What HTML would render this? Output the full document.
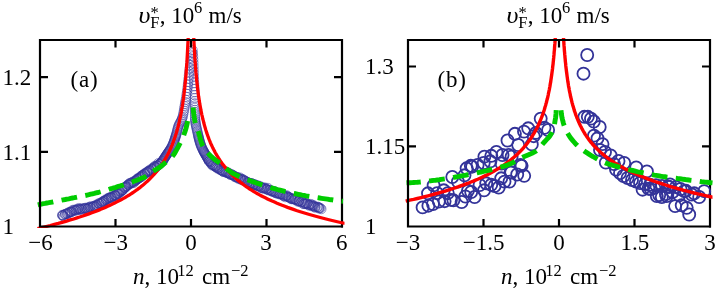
<!DOCTYPE html>
<html><head><meta charset="utf-8"><title>fig</title>
<style>
html,body{margin:0;padding:0;background:#fff;}
svg{display:block;will-change:transform;font-family:"Liberation Serif",serif;font-size:23px;fill:#000;}
</style></head><body>
<svg width="721" height="289" viewBox="0 0 721 289">
<rect width="721" height="289" fill="#fff"/>
<path d="M342 39V227.5" stroke="#000" stroke-width="2.2" fill="none"/><path d="M710 39V227.5" stroke="#000" stroke-width="2.2" fill="none"/>
<defs><clipPath id="ca"><rect x="37" y="38" width="307.5" height="190"/></clipPath><clipPath id="cb"><rect x="405" y="38" width="307.5" height="190"/></clipPath></defs><g clip-path="url(#ca)"><g fill="none" stroke="#333399" stroke-width="0.52"><circle cx="62.21" cy="214.92" r="4.65"/><circle cx="62.39" cy="215.61" r="4.65"/><circle cx="62.76" cy="215.49" r="4.65"/><circle cx="62.96" cy="215.18" r="4.65"/><circle cx="63.83" cy="216.65" r="4.65"/><circle cx="64.69" cy="214.52" r="4.65"/><circle cx="65.15" cy="214.06" r="4.65"/><circle cx="65.55" cy="213.9" r="4.65"/><circle cx="66.52" cy="213.68" r="4.65"/><circle cx="67.22" cy="213.39" r="4.65"/><circle cx="67.57" cy="213.95" r="4.65"/><circle cx="68.29" cy="212.62" r="4.65"/><circle cx="68.69" cy="212.84" r="4.65"/><circle cx="69.82" cy="212.15" r="4.65"/><circle cx="69.88" cy="212.53" r="4.65"/><circle cx="70.33" cy="211.63" r="4.65"/><circle cx="71.38" cy="211.82" r="4.65"/><circle cx="71.8" cy="211.62" r="4.65"/><circle cx="71.68" cy="211.55" r="4.65"/><circle cx="72.77" cy="209.97" r="4.65"/><circle cx="73.7" cy="210.93" r="4.65"/><circle cx="74.14" cy="209.82" r="4.65"/><circle cx="74.88" cy="210.13" r="4.65"/><circle cx="75.86" cy="210.34" r="4.65"/><circle cx="76.2" cy="210.36" r="4.65"/><circle cx="76.74" cy="209.19" r="4.65"/><circle cx="77.59" cy="209.82" r="4.65"/><circle cx="78.04" cy="209.03" r="4.65"/><circle cx="78.8" cy="208.09" r="4.65"/><circle cx="79.57" cy="209.51" r="4.65"/><circle cx="79.65" cy="209.23" r="4.65"/><circle cx="80.47" cy="209.52" r="4.65"/><circle cx="80.87" cy="208.63" r="4.65"/><circle cx="82.21" cy="209.61" r="4.65"/><circle cx="82.15" cy="208.73" r="4.65"/><circle cx="83.43" cy="208.62" r="4.65"/><circle cx="84.4" cy="208.27" r="4.65"/><circle cx="84.75" cy="208.27" r="4.65"/><circle cx="85.67" cy="208.7" r="4.65"/><circle cx="85.88" cy="207.76" r="4.65"/><circle cx="87.04" cy="208.88" r="4.65"/><circle cx="87.45" cy="208.93" r="4.65"/><circle cx="87.99" cy="207.88" r="4.65"/><circle cx="88.33" cy="207.61" r="4.65"/><circle cx="89.51" cy="207.08" r="4.65"/><circle cx="89.64" cy="207.44" r="4.65"/><circle cx="90.47" cy="207.67" r="4.65"/><circle cx="90.72" cy="206.3" r="4.65"/><circle cx="91.66" cy="207.55" r="4.65"/><circle cx="92.47" cy="206.83" r="4.65"/><circle cx="92.82" cy="206.64" r="4.65"/><circle cx="93.45" cy="206.67" r="4.65"/><circle cx="93.93" cy="206.08" r="4.65"/><circle cx="94.71" cy="206.04" r="4.65"/><circle cx="95.41" cy="206.79" r="4.65"/><circle cx="96.33" cy="206.01" r="4.65"/><circle cx="96.05" cy="204.82" r="4.65"/><circle cx="97.01" cy="204.99" r="4.65"/><circle cx="97.2" cy="205.04" r="4.65"/><circle cx="98.63" cy="203.52" r="4.65"/><circle cx="98.71" cy="203.49" r="4.65"/><circle cx="99.56" cy="203.92" r="4.65"/><circle cx="100.66" cy="203.2" r="4.65"/><circle cx="100.92" cy="203.08" r="4.65"/><circle cx="101.76" cy="203.07" r="4.65"/><circle cx="102.24" cy="201.85" r="4.65"/><circle cx="102.43" cy="201.66" r="4.65"/><circle cx="103.41" cy="202.05" r="4.65"/><circle cx="103.52" cy="201.14" r="4.65"/><circle cx="104.27" cy="200.66" r="4.65"/><circle cx="104.48" cy="200.9" r="4.65"/><circle cx="105.89" cy="200.19" r="4.65"/><circle cx="105.7" cy="199.4" r="4.65"/><circle cx="106.08" cy="199.92" r="4.65"/><circle cx="107.2" cy="199.34" r="4.65"/><circle cx="107.65" cy="199.07" r="4.65"/><circle cx="108.18" cy="197.93" r="4.65"/><circle cx="108.62" cy="198.44" r="4.65"/><circle cx="109.12" cy="197.84" r="4.65"/><circle cx="109.69" cy="197.6" r="4.65"/><circle cx="110.69" cy="197.26" r="4.65"/><circle cx="111.03" cy="197.56" r="4.65"/><circle cx="111.81" cy="197.69" r="4.65"/><circle cx="111.71" cy="196.97" r="4.65"/><circle cx="112.69" cy="196.3" r="4.65"/><circle cx="113.61" cy="196.46" r="4.65"/><circle cx="114.24" cy="195.68" r="4.65"/><circle cx="114.96" cy="195.15" r="4.65"/><circle cx="115.1" cy="195.37" r="4.65"/><circle cx="115.57" cy="195.72" r="4.65"/><circle cx="116.54" cy="195.4" r="4.65"/><circle cx="116.84" cy="193.79" r="4.65"/><circle cx="117.46" cy="194.01" r="4.65"/><circle cx="117.83" cy="193.48" r="4.65"/><circle cx="118.53" cy="193.75" r="4.65"/><circle cx="118.92" cy="193.1" r="4.65"/><circle cx="119.47" cy="191.72" r="4.65"/><circle cx="119.99" cy="191.22" r="4.65"/><circle cx="120.73" cy="191.93" r="4.65"/><circle cx="121.25" cy="191.32" r="4.65"/><circle cx="122.13" cy="190.72" r="4.65"/><circle cx="122.27" cy="190.02" r="4.65"/><circle cx="122.32" cy="190.11" r="4.65"/><circle cx="122.78" cy="189.62" r="4.65"/><circle cx="123.71" cy="189.42" r="4.65"/><circle cx="124.18" cy="188" r="4.65"/><circle cx="124.78" cy="187.69" r="4.65"/><circle cx="125.14" cy="187.55" r="4.65"/><circle cx="125.65" cy="187" r="4.65"/><circle cx="125.97" cy="186.57" r="4.65"/><circle cx="126.15" cy="186.16" r="4.65"/><circle cx="126.89" cy="186.38" r="4.65"/><circle cx="128.02" cy="184.43" r="4.65"/><circle cx="128.27" cy="184.94" r="4.65"/><circle cx="128.5" cy="184.88" r="4.65"/><circle cx="129.19" cy="183.36" r="4.65"/><circle cx="129.8" cy="183.81" r="4.65"/><circle cx="130.46" cy="182.94" r="4.65"/><circle cx="131.17" cy="183.62" r="4.65"/><circle cx="131.33" cy="182.64" r="4.65"/><circle cx="132.19" cy="182.4" r="4.65"/><circle cx="133.23" cy="182.48" r="4.65"/><circle cx="133.11" cy="181.64" r="4.65"/><circle cx="133.9" cy="182.83" r="4.65"/><circle cx="134.42" cy="181.37" r="4.65"/><circle cx="135.12" cy="180.9" r="4.65"/><circle cx="136.09" cy="180.25" r="4.65"/><circle cx="136.23" cy="180.19" r="4.65"/><circle cx="136.71" cy="179.11" r="4.65"/><circle cx="137.51" cy="179.22" r="4.65"/><circle cx="137.58" cy="178.39" r="4.65"/><circle cx="137.9" cy="178.72" r="4.65"/><circle cx="138.83" cy="178.39" r="4.65"/><circle cx="139.4" cy="177.95" r="4.65"/><circle cx="139.62" cy="177.6" r="4.65"/><circle cx="140.28" cy="176.72" r="4.65"/><circle cx="140.84" cy="177.02" r="4.65"/><circle cx="141.25" cy="175.81" r="4.65"/><circle cx="141.91" cy="176.56" r="4.65"/><circle cx="142.23" cy="175.2" r="4.65"/><circle cx="142.8" cy="175.5" r="4.65"/><circle cx="142.94" cy="174.73" r="4.65"/><circle cx="144.26" cy="173.79" r="4.65"/><circle cx="144.9" cy="174.13" r="4.65"/><circle cx="144.96" cy="173.63" r="4.65"/><circle cx="145.29" cy="172.92" r="4.65"/><circle cx="146.7" cy="172.42" r="4.65"/><circle cx="147.27" cy="172.49" r="4.65"/><circle cx="147.63" cy="172.22" r="4.65"/><circle cx="147.39" cy="171.58" r="4.65"/><circle cx="148.56" cy="170.95" r="4.65"/><circle cx="148.74" cy="171.35" r="4.65"/><circle cx="149.46" cy="169.97" r="4.65"/><circle cx="150.01" cy="170.88" r="4.65"/><circle cx="150.6" cy="170.54" r="4.65"/><circle cx="151.63" cy="169.7" r="4.65"/><circle cx="151.5" cy="168.64" r="4.65"/><circle cx="152.3" cy="169.33" r="4.65"/><circle cx="152.9" cy="168.76" r="4.65"/><circle cx="153.24" cy="168.24" r="4.65"/><circle cx="153.76" cy="167.52" r="4.65"/><circle cx="154.08" cy="166.5" r="4.65"/><circle cx="154.82" cy="166.34" r="4.65"/><circle cx="155.24" cy="166.85" r="4.65"/><circle cx="156" cy="167.61" r="4.65"/><circle cx="156.82" cy="165.49" r="4.65"/><circle cx="157.35" cy="165.65" r="4.65"/><circle cx="157.55" cy="165.69" r="4.65"/><circle cx="158.1" cy="163.27" r="4.65"/><circle cx="159.05" cy="164.13" r="4.65"/><circle cx="159.76" cy="163.74" r="4.65"/><circle cx="159.62" cy="164.44" r="4.65"/><circle cx="160.13" cy="163.32" r="4.65"/><circle cx="161.24" cy="162.82" r="4.65"/><circle cx="161.31" cy="162.33" r="4.65"/><circle cx="161.97" cy="161.38" r="4.65"/><circle cx="162.33" cy="161.56" r="4.65"/><circle cx="163.17" cy="160.59" r="4.65"/><circle cx="162.76" cy="160.59" r="4.65"/><circle cx="163.37" cy="159.69" r="4.65"/><circle cx="163.75" cy="159.15" r="4.65"/><circle cx="164.12" cy="158.6" r="4.65"/><circle cx="164.49" cy="158.05" r="4.65"/><circle cx="164.85" cy="157.5" r="4.65"/><circle cx="165.21" cy="156.95" r="4.65"/><circle cx="165.57" cy="156.4" r="4.65"/><circle cx="165.93" cy="155.85" r="4.65"/><circle cx="166.3" cy="155.3" r="4.65"/><circle cx="166.67" cy="154.75" r="4.65"/><circle cx="167.04" cy="154.2" r="4.65"/><circle cx="167.41" cy="153.66" r="4.65"/><circle cx="167.78" cy="153.11" r="4.65"/><circle cx="168.15" cy="152.57" r="4.65"/><circle cx="168.52" cy="152.02" r="4.65"/><circle cx="168.89" cy="151.47" r="4.65"/><circle cx="169.25" cy="150.92" r="4.65"/><circle cx="169.61" cy="150.37" r="4.65"/><circle cx="169.97" cy="149.81" r="4.65"/><circle cx="170.49" cy="148.96" r="4.65"/><circle cx="171" cy="148.1" r="4.65"/><circle cx="171.49" cy="147.23" r="4.65"/><circle cx="171.96" cy="146.34" r="4.65"/><circle cx="172.4" cy="145.44" r="4.65"/><circle cx="172.81" cy="144.53" r="4.65"/><circle cx="173.19" cy="143.61" r="4.65"/><circle cx="173.56" cy="142.68" r="4.65"/><circle cx="173.91" cy="141.74" r="4.65"/><circle cx="174.25" cy="140.8" r="4.65"/><circle cx="174.58" cy="139.86" r="4.65"/><circle cx="174.89" cy="138.91" r="4.65"/><circle cx="175.19" cy="137.95" r="4.65"/><circle cx="175.49" cy="137" r="4.65"/><circle cx="175.78" cy="136.04" r="4.65"/><circle cx="176.07" cy="135.09" r="4.65"/><circle cx="176.35" cy="134.13" r="4.65"/><circle cx="176.71" cy="132.77" r="4.65"/><circle cx="177.04" cy="131.41" r="4.65"/><circle cx="177.36" cy="130.05" r="4.65"/><circle cx="177.7" cy="128.69" r="4.65"/><circle cx="178.07" cy="127.34" r="4.65"/><circle cx="178.5" cy="126.01" r="4.65"/><circle cx="179.02" cy="124.71" r="4.65"/><circle cx="179.65" cy="123.46" r="4.65"/><circle cx="180.33" cy="122.23" r="4.65"/><circle cx="181" cy="121.01" r="4.65"/><circle cx="181.63" cy="119.76" r="4.65"/><circle cx="182.15" cy="118.46" r="4.65"/><circle cx="182.55" cy="117.12" r="4.65"/><circle cx="183.07" cy="114.98" r="4.65"/><circle cx="183.51" cy="112.82" r="4.65"/><circle cx="183.91" cy="110.66" r="4.65"/><circle cx="184.27" cy="108.49" r="4.65"/><circle cx="184.64" cy="106.32" r="4.65"/><circle cx="185.02" cy="104.15" r="4.65"/><circle cx="185.39" cy="101.99" r="4.65"/><circle cx="185.75" cy="99.82" r="4.65"/><circle cx="186.23" cy="96.85" r="4.65"/><circle cx="186.68" cy="93.89" r="4.65"/><circle cx="187.11" cy="90.92" r="4.65"/><circle cx="187.51" cy="87.94" r="4.65"/><circle cx="187.87" cy="84.97" r="4.65"/><circle cx="188.2" cy="81.98" r="4.65"/><circle cx="188.55" cy="78.6" r="4.65"/><circle cx="188.9" cy="75.22" r="4.65"/><circle cx="189.28" cy="71.84" r="4.65"/><circle cx="189.7" cy="68.47" r="4.65"/><circle cx="190.17" cy="65.1" r="4.65"/><circle cx="190.66" cy="61.74" r="4.65"/><circle cx="191.12" cy="58.57" r="4.65"/><circle cx="191.56" cy="55.4" r="4.65"/><circle cx="192" cy="52.23" r="4.65"/><circle cx="192.6" cy="50" r="4.65"/><circle cx="192.86" cy="53.19" r="4.65"/><circle cx="193.09" cy="56.38" r="4.65"/><circle cx="193.28" cy="59.58" r="4.65"/><circle cx="193.42" cy="62.77" r="4.65"/><circle cx="193.53" cy="66.17" r="4.65"/><circle cx="193.63" cy="69.57" r="4.65"/><circle cx="193.73" cy="72.97" r="4.65"/><circle cx="193.85" cy="76.37" r="4.65"/><circle cx="193.99" cy="79.76" r="4.65"/><circle cx="194.14" cy="83.16" r="4.65"/><circle cx="194.28" cy="86.16" r="4.65"/><circle cx="194.41" cy="89.15" r="4.65"/><circle cx="194.54" cy="92.15" r="4.65"/><circle cx="194.66" cy="95.15" r="4.65"/><circle cx="194.75" cy="98.15" r="4.65"/><circle cx="194.82" cy="101.15" r="4.65"/><circle cx="194.86" cy="103.35" r="4.65"/><circle cx="194.89" cy="105.55" r="4.65"/><circle cx="194.92" cy="107.75" r="4.65"/><circle cx="194.94" cy="109.94" r="4.65"/><circle cx="194.97" cy="112.14" r="4.65"/><circle cx="195.01" cy="114.34" r="4.65"/><circle cx="195.06" cy="116.54" r="4.65"/><circle cx="195.13" cy="118.74" r="4.65"/><circle cx="195.23" cy="120.14" r="4.65"/><circle cx="195.38" cy="121.53" r="4.65"/><circle cx="195.56" cy="122.92" r="4.65"/><circle cx="195.79" cy="124.3" r="4.65"/><circle cx="196.04" cy="125.68" r="4.65"/><circle cx="196.31" cy="127.05" r="4.65"/><circle cx="196.61" cy="128.42" r="4.65"/><circle cx="196.91" cy="129.79" r="4.65"/><circle cx="197.23" cy="131.15" r="4.65"/><circle cx="197.54" cy="132.51" r="4.65"/><circle cx="197.85" cy="133.88" r="4.65"/><circle cx="198.15" cy="135.25" r="4.65"/><circle cx="198.37" cy="136.22" r="4.65"/><circle cx="198.59" cy="137.2" r="4.65"/><circle cx="198.83" cy="138.17" r="4.65"/><circle cx="199.07" cy="139.14" r="4.65"/><circle cx="199.32" cy="140.11" r="4.65"/><circle cx="199.58" cy="141.07" r="4.65"/><circle cx="199.85" cy="142.04" r="4.65"/><circle cx="200.14" cy="142.99" r="4.65"/><circle cx="200.44" cy="143.95" r="4.65"/><circle cx="200.76" cy="144.89" r="4.65"/><circle cx="201.11" cy="145.83" r="4.65"/><circle cx="201.47" cy="146.76" r="4.65"/><circle cx="201.87" cy="147.68" r="4.65"/><circle cx="202.28" cy="148.59" r="4.65"/><circle cx="202.72" cy="149.49" r="4.65"/><circle cx="203.17" cy="150.39" r="4.65"/><circle cx="203.47" cy="150.97" r="4.65"/><circle cx="203.78" cy="151.55" r="4.65"/><circle cx="204.09" cy="152.14" r="4.65"/><circle cx="204.41" cy="152.71" r="4.65"/><circle cx="204.73" cy="153.29" r="4.65"/><circle cx="205.06" cy="153.87" r="4.65"/><circle cx="205.38" cy="154.44" r="4.65"/><circle cx="205.71" cy="155.01" r="4.65"/><circle cx="206.03" cy="155.59" r="4.65"/><circle cx="206.36" cy="156.16" r="4.65"/><circle cx="206.68" cy="156.74" r="4.65"/><circle cx="207.01" cy="157.31" r="4.65"/><circle cx="207.34" cy="157.88" r="4.65"/><circle cx="207.67" cy="158.45" r="4.65"/><circle cx="208.01" cy="159.02" r="4.65"/><circle cx="208.36" cy="159.58" r="4.65"/><circle cx="208.61" cy="160.28" r="4.65"/><circle cx="209.11" cy="161.27" r="4.65"/><circle cx="209.28" cy="161.19" r="4.65"/><circle cx="209.2" cy="161.32" r="4.65"/><circle cx="210.62" cy="161.95" r="4.65"/><circle cx="210.49" cy="162.19" r="4.65"/><circle cx="211.24" cy="163.38" r="4.65"/><circle cx="211.26" cy="164.1" r="4.65"/><circle cx="212.11" cy="164.59" r="4.65"/><circle cx="212.38" cy="165.51" r="4.65"/><circle cx="213.17" cy="164.99" r="4.65"/><circle cx="213.47" cy="165.31" r="4.65"/><circle cx="214.36" cy="165.67" r="4.65"/><circle cx="214.97" cy="166.45" r="4.65"/><circle cx="215.6" cy="166.91" r="4.65"/><circle cx="215.82" cy="165.88" r="4.65"/><circle cx="216.49" cy="167.55" r="4.65"/><circle cx="217.03" cy="167.76" r="4.65"/><circle cx="217.45" cy="167.6" r="4.65"/><circle cx="217.91" cy="168.79" r="4.65"/><circle cx="218.77" cy="168.17" r="4.65"/><circle cx="218.98" cy="168.66" r="4.65"/><circle cx="220.25" cy="169.28" r="4.65"/><circle cx="220.29" cy="170.08" r="4.65"/><circle cx="221.41" cy="170.17" r="4.65"/><circle cx="221.84" cy="170.56" r="4.65"/><circle cx="222.36" cy="170.67" r="4.65"/><circle cx="222.62" cy="171.33" r="4.65"/><circle cx="223.47" cy="171.88" r="4.65"/><circle cx="223.49" cy="171.51" r="4.65"/><circle cx="224.84" cy="171.27" r="4.65"/><circle cx="225.31" cy="172.1" r="4.65"/><circle cx="225.93" cy="171.74" r="4.65"/><circle cx="226.35" cy="172.79" r="4.65"/><circle cx="227.31" cy="172.61" r="4.65"/><circle cx="227.61" cy="172.94" r="4.65"/><circle cx="228.45" cy="172.59" r="4.65"/><circle cx="228.45" cy="173.45" r="4.65"/><circle cx="229.11" cy="173.37" r="4.65"/><circle cx="230.01" cy="174.19" r="4.65"/><circle cx="230.31" cy="174.62" r="4.65"/><circle cx="230.74" cy="174.77" r="4.65"/><circle cx="231.38" cy="174.15" r="4.65"/><circle cx="232.53" cy="174.86" r="4.65"/><circle cx="232.77" cy="175.13" r="4.65"/><circle cx="233.68" cy="175.61" r="4.65"/><circle cx="234.15" cy="176.45" r="4.65"/><circle cx="234.58" cy="175.97" r="4.65"/><circle cx="235.22" cy="177.07" r="4.65"/><circle cx="236.19" cy="177.42" r="4.65"/><circle cx="236.53" cy="176.98" r="4.65"/><circle cx="237.35" cy="177.14" r="4.65"/><circle cx="237.94" cy="177.99" r="4.65"/><circle cx="238.16" cy="177.86" r="4.65"/><circle cx="238.9" cy="179.05" r="4.65"/><circle cx="240.18" cy="178.41" r="4.65"/><circle cx="240.13" cy="177.6" r="4.65"/><circle cx="240.78" cy="179.01" r="4.65"/><circle cx="241.06" cy="179.67" r="4.65"/><circle cx="241.54" cy="179.44" r="4.65"/><circle cx="242.57" cy="179.19" r="4.65"/><circle cx="243.36" cy="180.61" r="4.65"/><circle cx="243.4" cy="179.63" r="4.65"/><circle cx="244.51" cy="180.58" r="4.65"/><circle cx="244.67" cy="180.7" r="4.65"/><circle cx="245.55" cy="181.03" r="4.65"/><circle cx="246.4" cy="181.54" r="4.65"/><circle cx="247.24" cy="182.28" r="4.65"/><circle cx="247.58" cy="182.38" r="4.65"/><circle cx="248.36" cy="182.44" r="4.65"/><circle cx="248.33" cy="182.76" r="4.65"/><circle cx="249.27" cy="183.38" r="4.65"/><circle cx="249.89" cy="183.07" r="4.65"/><circle cx="250.57" cy="183.89" r="4.65"/><circle cx="251.15" cy="183.15" r="4.65"/><circle cx="251.8" cy="183.3" r="4.65"/><circle cx="252.38" cy="183.75" r="4.65"/><circle cx="253.02" cy="184.94" r="4.65"/><circle cx="253.47" cy="184.23" r="4.65"/><circle cx="254.14" cy="184.78" r="4.65"/><circle cx="254.51" cy="184.33" r="4.65"/><circle cx="255.42" cy="185.18" r="4.65"/><circle cx="256.04" cy="184.88" r="4.65"/><circle cx="256.45" cy="185.61" r="4.65"/><circle cx="257.65" cy="185.75" r="4.65"/><circle cx="257.95" cy="186.03" r="4.65"/><circle cx="258.29" cy="185.88" r="4.65"/><circle cx="259.08" cy="186.41" r="4.65"/><circle cx="259.76" cy="185.88" r="4.65"/><circle cx="260.67" cy="187.56" r="4.65"/><circle cx="260.94" cy="187.13" r="4.65"/><circle cx="261.7" cy="187.55" r="4.65"/><circle cx="261.88" cy="188.19" r="4.65"/><circle cx="262.76" cy="188.24" r="4.65"/><circle cx="263.51" cy="187.64" r="4.65"/><circle cx="264.08" cy="188.5" r="4.65"/><circle cx="264.52" cy="188.09" r="4.65"/><circle cx="265.23" cy="187.65" r="4.65"/><circle cx="266.3" cy="189.02" r="4.65"/><circle cx="266.59" cy="189.54" r="4.65"/><circle cx="266.98" cy="189.14" r="4.65"/><circle cx="268.27" cy="189.9" r="4.65"/><circle cx="267.9" cy="187.97" r="4.65"/><circle cx="268.82" cy="190.39" r="4.65"/><circle cx="269.58" cy="189.98" r="4.65"/><circle cx="270.47" cy="189.88" r="4.65"/><circle cx="270.99" cy="190.95" r="4.65"/><circle cx="271.67" cy="190.98" r="4.65"/><circle cx="272.02" cy="191.27" r="4.65"/><circle cx="272.68" cy="191.9" r="4.65"/><circle cx="274.05" cy="191.11" r="4.65"/><circle cx="273.48" cy="191.5" r="4.65"/><circle cx="274.73" cy="192.47" r="4.65"/><circle cx="275.52" cy="191.79" r="4.65"/><circle cx="275.67" cy="193.05" r="4.65"/><circle cx="276.22" cy="193.19" r="4.65"/><circle cx="277.05" cy="193.27" r="4.65"/><circle cx="277.9" cy="193.51" r="4.65"/><circle cx="278.54" cy="192.86" r="4.65"/><circle cx="279.03" cy="193.6" r="4.65"/><circle cx="279.65" cy="194.44" r="4.65"/><circle cx="280.12" cy="193.7" r="4.65"/><circle cx="280.62" cy="194.14" r="4.65"/><circle cx="281.61" cy="194.12" r="4.65"/><circle cx="282.33" cy="194.91" r="4.65"/><circle cx="282.6" cy="194.34" r="4.65"/><circle cx="283.33" cy="195.58" r="4.65"/><circle cx="283.45" cy="196.07" r="4.65"/><circle cx="284.92" cy="195.88" r="4.65"/><circle cx="285.24" cy="197.15" r="4.65"/><circle cx="286.05" cy="195.73" r="4.65"/><circle cx="286.35" cy="196.33" r="4.65"/><circle cx="286.93" cy="195.46" r="4.65"/><circle cx="287.78" cy="196.56" r="4.65"/><circle cx="288.25" cy="197.05" r="4.65"/><circle cx="289.04" cy="197.2" r="4.65"/><circle cx="289.24" cy="197.85" r="4.65"/><circle cx="290.41" cy="197.65" r="4.65"/><circle cx="291.02" cy="198.17" r="4.65"/><circle cx="291.16" cy="199.04" r="4.65"/><circle cx="291.71" cy="199.01" r="4.65"/><circle cx="292.41" cy="198.96" r="4.65"/><circle cx="292.84" cy="198.55" r="4.65"/><circle cx="294.04" cy="199.29" r="4.65"/><circle cx="294.4" cy="199.2" r="4.65"/><circle cx="295.12" cy="198.95" r="4.65"/><circle cx="295.35" cy="199.8" r="4.65"/><circle cx="296.04" cy="199.75" r="4.65"/><circle cx="296.85" cy="200.26" r="4.65"/><circle cx="297.44" cy="201.38" r="4.65"/><circle cx="298.36" cy="201.39" r="4.65"/><circle cx="298.73" cy="200.75" r="4.65"/><circle cx="298.99" cy="201.05" r="4.65"/><circle cx="299.46" cy="201.15" r="4.65"/><circle cx="300.79" cy="202.47" r="4.65"/><circle cx="301.46" cy="201.45" r="4.65"/><circle cx="301.97" cy="201.71" r="4.65"/><circle cx="302.67" cy="202.26" r="4.65"/><circle cx="303.3" cy="203.82" r="4.65"/><circle cx="303.94" cy="203.92" r="4.65"/><circle cx="304.38" cy="202.81" r="4.65"/><circle cx="305.29" cy="204.05" r="4.65"/><circle cx="305.44" cy="203.44" r="4.65"/><circle cx="305.85" cy="203.52" r="4.65"/><circle cx="307.05" cy="203.79" r="4.65"/><circle cx="307.31" cy="203.35" r="4.65"/><circle cx="308.17" cy="204.66" r="4.65"/><circle cx="308.85" cy="204.61" r="4.65"/><circle cx="309.01" cy="205.57" r="4.65"/><circle cx="309.94" cy="204.83" r="4.65"/><circle cx="310.76" cy="204.03" r="4.65"/><circle cx="311.19" cy="205.26" r="4.65"/><circle cx="311.92" cy="206.21" r="4.65"/><circle cx="312.57" cy="204.83" r="4.65"/><circle cx="312.99" cy="206.06" r="4.65"/><circle cx="313.74" cy="205.53" r="4.65"/><circle cx="313.92" cy="206.65" r="4.65"/><circle cx="315.04" cy="206.58" r="4.65"/><circle cx="315.15" cy="207.68" r="4.65"/><circle cx="315.49" cy="206.82" r="4.65"/><circle cx="317.36" cy="207.13" r="4.65"/><circle cx="317.52" cy="206.83" r="4.65"/><circle cx="318.43" cy="206.98" r="4.65"/><circle cx="318.78" cy="207.89" r="4.65"/><circle cx="319.08" cy="208.48" r="4.65"/><circle cx="319.62" cy="207.89" r="4.65"/><circle cx="320.59" cy="208.23" r="4.65"/><circle cx="321.35" cy="209.11" r="4.65"/></g>
<path d="M189 12.9 188.9 15 188.9 17.2 188.8 19.3 188.8 21.4 188.7 23.5 188.6 25.6 188.5 27.6 188.5 29.7 188.4 31.7 188.3 33.8 188.2 35.8 188.2 37.8 188.1 39.8 188 41.8 187.9 43.7 187.8 45.7 187.7 47.6 187.6 49.5 187.5 51.5 187.4 53.4 187.3 55.3 187.2 57.1 187.1 59 187 60.9 186.9 62.7 186.7 64.6 186.6 66.4 186.5 68.2 186.3 70 186.2 71.8 186.1 73.6 185.9 75.3 185.8 77.1 185.6 78.8 185.5 80.6 185.3 82.3 185.1 84 184.9 85.7 184.8 87.4 184.6 89.1 184.4 90.8 184.2 92.4 184 94.1 183.8 95.7 183.6 97.4 183.4 99 183.1 100.6 182.9 102.2 182.7 103.8 182.4 105.4 182.2 107 181.9 108.5 181.6 110.1 181.4 111.7 181.1 113.2 180.8 114.7 180.5 116.2 180.2 117.8 179.8 119.3 179.5 120.8 179.2 122.2 178.8 123.7 178.5 125.2 178.1 126.6 177.7 128.1 177.3 129.5 176.9 131 176.5 132.4 176.1 133.8 175.6 135.2 175.2 136.6 174.7 138 174.2 139.4 173.7 140.8 173.2 142.2 172.7 143.5 172.2 144.9 171.6 146.3 171 147.6 170.4 148.9 169.8 150.3 169.2 151.6 168.6 152.9 167.9 154.2 167.2 155.5 166.5 156.8 165.8 158.1 165 159.4 164.3 160.7 163.5 161.9 162.7 163.2 161.8 164.5 161 165.7 160.1 167 159.2 168.2 158.2 169.4 157.3 170.7 156.3 171.9 155.2 173.1 154.2 174.3 153.1 175.5 152 176.7 150.8 177.9 149.6 179.1 148.4 180.3 147.1 181.5 145.8 182.6 144.5 183.8 143.1 185 141.7 186.1 140.3 187.3 138.8 188.4 137.2 189.6 135.6 190.7 134 191.9 132.3 193 130.6 194.1 128.8 195.3 126.9 196.4 125.1 197.5 123.1 198.6 121.1 199.7 119 200.8 116.9 201.9 114.7 203 112.5 204.1 110.1 205.2 107.7 206.3 105.3 207.4 102.7 208.5 100.1 209.6 97.5 210.6 94.7 211.7 91.8 212.8 88.9 213.9 85.9 214.9 82.8 216 79.6 217 76.3 218.1 72.9 219.2 69.4 220.2 65.8 221.3 62.1 222.3 58.3 223.4 54.4 224.4 50.3 225.5 46.2 226.5 41.9 227.5 37.5 228.6" fill="none" stroke="#ff0000" stroke-width="3.3" stroke-linejoin="round"/>
<path d="M193 16.1 193.1 18.1 193.1 20 193.2 21.9 193.2 23.9 193.3 25.8 193.4 27.7 193.5 29.5 193.5 31.4 193.6 33.3 193.7 35.1 193.8 37 193.8 38.8 193.9 40.7 194 42.5 194.1 44.3 194.2 46.1 194.3 47.9 194.4 49.7 194.5 51.5 194.6 53.2 194.7 55 194.8 56.8 194.9 58.5 195 60.3 195.1 62 195.3 63.7 195.4 65.4 195.5 67.1 195.7 68.8 195.8 70.5 195.9 72.2 196.1 73.9 196.2 75.5 196.4 77.2 196.5 78.8 196.7 80.5 196.9 82.1 197.1 83.7 197.2 85.3 197.4 86.9 197.6 88.5 197.8 90.1 198 91.7 198.2 93.3 198.4 94.9 198.6 96.4 198.9 98 199.1 99.5 199.3 101.1 199.6 102.6 199.8 104.1 200.1 105.6 200.4 107.2 200.7 108.7 200.9 110.2 201.2 111.6 201.5 113.1 201.8 114.6 202.2 116.1 202.5 117.5 202.8 119 203.2 120.4 203.6 121.9 203.9 123.3 204.3 124.7 204.7 126.1 205.1 127.5 205.5 128.9 205.9 130.3 206.4 131.7 206.8 133.1 207.3 134.5 207.8 135.9 208.3 137.2 208.8 138.6 209.3 139.9 209.9 141.3 210.4 142.6 211 144 211.6 145.3 212.2 146.6 212.8 147.9 213.5 149.2 214.2 150.5 214.8 151.8 215.5 153.1 216.3 154.4 217 155.7 217.8 156.9 218.6 158.2 219.4 159.4 220.2 160.7 221.1 161.9 222 163.2 222.9 164.4 223.8 165.6 224.8 166.9 225.8 168.1 226.8 169.3 227.9 170.5 229 171.7 230.1 172.9 231.3 174.1 232.5 175.3 233.7 176.5 235 177.6 236.3 178.8 237.6 180 239 181.1 240.4 182.3 241.9 183.4 243.4 184.5 244.9 185.7 246.5 186.8 248.2 187.9 249.8 189.1 251.6 190.2 253.4 191.3 255.2 192.4 257.1 193.5 259.1 194.6 261.1 195.7 263.2 196.8 265.3 197.8 267.5 198.9 269.8 200 272.1 201.1 274.5 202.1 277 203.2 279.5 204.2 282.1 205.3 284.8 206.3 287.6 207.4 290.5 208.4 293.4 209.4 296.4 210.5 299.5 211.5 302.8 212.5 306.1 213.5 309.5 214.5 313 215.5 316.6 216.5 320.3 217.5 324.1 218.5 328 219.5 332.1 220.5 336.3 221.5 340.6 222.5 345 223.4" fill="none" stroke="#ff0000" stroke-width="3.3" stroke-linejoin="round"/>
</g>
<g clip-path="url(#cb)"><g fill="none" stroke="#333399" stroke-width="1.8"><circle cx="587.2" cy="55" r="6.05"/><circle cx="583.5" cy="73.7" r="6.05"/><circle cx="584.4" cy="116.8" r="6.05"/><circle cx="587.8" cy="116.8" r="6.05"/><circle cx="591" cy="118.6" r="6.05"/><circle cx="593.8" cy="121.5" r="6.05"/><circle cx="599.7" cy="127" r="6.05"/><circle cx="594" cy="135.6" r="6.05"/><circle cx="597.5" cy="138.3" r="6.05"/><circle cx="602.5" cy="144.1" r="6.05"/><circle cx="600" cy="150" r="6.05"/><circle cx="605" cy="152" r="6.05"/><circle cx="610.6" cy="155.4" r="6.05"/><circle cx="618.5" cy="161" r="6.05"/><circle cx="605.8" cy="162.6" r="6.05"/><circle cx="614.1" cy="164.1" r="6.05"/><circle cx="624.2" cy="163" r="6.05"/><circle cx="636.2" cy="167.4" r="6.05"/><circle cx="646.9" cy="171.4" r="6.05"/><circle cx="616" cy="169.5" r="6.05"/><circle cx="620" cy="173" r="6.05"/><circle cx="623.5" cy="176" r="6.05"/><circle cx="627.6" cy="178" r="6.05"/><circle cx="632" cy="180" r="6.05"/><circle cx="636" cy="181.6" r="6.05"/><circle cx="640" cy="183" r="6.05"/><circle cx="645" cy="184.2" r="6.05"/><circle cx="650" cy="184.8" r="6.05"/><circle cx="656" cy="185.2" r="6.05"/><circle cx="662" cy="186" r="6.05"/><circle cx="668" cy="186.5" r="6.05"/><circle cx="670" cy="184.5" r="6.05"/><circle cx="676" cy="187" r="6.05"/><circle cx="680.5" cy="189" r="6.05"/><circle cx="642.6" cy="189.7" r="6.05"/><circle cx="648.4" cy="188.7" r="6.05"/><circle cx="654.3" cy="187.8" r="6.05"/><circle cx="650.9" cy="189.1" r="6.05"/><circle cx="659.2" cy="195" r="6.05"/><circle cx="665.9" cy="194.1" r="6.05"/><circle cx="656.8" cy="196.1" r="6.05"/><circle cx="661.8" cy="197" r="6.05"/><circle cx="666.7" cy="196.1" r="6.05"/><circle cx="675.1" cy="206.1" r="6.05"/><circle cx="681.7" cy="205.3" r="6.05"/><circle cx="686.7" cy="207.8" r="6.05"/><circle cx="689.2" cy="214.5" r="6.05"/><circle cx="704.2" cy="191.2" r="6.05"/><circle cx="699.2" cy="197" r="6.05"/><circle cx="691.7" cy="194.5" r="6.05"/><circle cx="684.2" cy="191.2" r="6.05"/><circle cx="679.2" cy="195.3" r="6.05"/><circle cx="672.6" cy="192" r="6.05"/><circle cx="669.2" cy="187" r="6.05"/><circle cx="685.9" cy="190.8" r="6.05"/><circle cx="694.2" cy="193.3" r="6.05"/><circle cx="540.7" cy="118.6" r="6.05"/><circle cx="528.2" cy="128.3" r="6.05"/><circle cx="514.9" cy="133.8" r="6.05"/><circle cx="507.5" cy="140.5" r="6.05"/><circle cx="544.5" cy="127.8" r="6.05"/><circle cx="548.1" cy="130" r="6.05"/><circle cx="524" cy="131.6" r="6.05"/><circle cx="535.9" cy="132.9" r="6.05"/><circle cx="533.7" cy="136.2" r="6.05"/><circle cx="518.2" cy="145" r="6.05"/><circle cx="531.8" cy="144.4" r="6.05"/><circle cx="496.4" cy="152" r="6.05"/><circle cx="484.4" cy="156.6" r="6.05"/><circle cx="491.3" cy="155.8" r="6.05"/><circle cx="502.5" cy="155" r="6.05"/><circle cx="511.6" cy="156.6" r="6.05"/><circle cx="521.6" cy="165.8" r="6.05"/><circle cx="470.8" cy="165.8" r="6.05"/><circle cx="466.6" cy="168.3" r="6.05"/><circle cx="477.6" cy="165" r="6.05"/><circle cx="452.3" cy="177" r="6.05"/><circle cx="510.7" cy="172.4" r="6.05"/><circle cx="517.2" cy="174.5" r="6.05"/><circle cx="524.2" cy="175.8" r="6.05"/><circle cx="472.1" cy="166.7" r="6.05"/><circle cx="483.7" cy="163" r="6.05"/><circle cx="490.4" cy="161.3" r="6.05"/><circle cx="520.4" cy="165" r="6.05"/><circle cx="511.2" cy="172.5" r="6.05"/><circle cx="464.5" cy="175.3" r="6.05"/><circle cx="457.9" cy="181.6" r="6.05"/><circle cx="433.6" cy="185.3" r="6.05"/><circle cx="428" cy="193.3" r="6.05"/><circle cx="437.1" cy="193.2" r="6.05"/><circle cx="443.8" cy="190.3" r="6.05"/><circle cx="447.8" cy="193.2" r="6.05"/><circle cx="422.6" cy="207.4" r="6.05"/><circle cx="428.4" cy="205.7" r="6.05"/><circle cx="433" cy="204" r="6.05"/><circle cx="438.8" cy="201.5" r="6.05"/><circle cx="444.6" cy="201.2" r="6.05"/><circle cx="450.9" cy="199.9" r="6.05"/><circle cx="453.4" cy="200.3" r="6.05"/><circle cx="461.6" cy="202" r="6.05"/><circle cx="474.6" cy="197" r="6.05"/><circle cx="471.2" cy="192" r="6.05"/><circle cx="467.9" cy="190.8" r="6.05"/><circle cx="484.1" cy="190.3" r="6.05"/><circle cx="479.6" cy="185" r="6.05"/><circle cx="486.2" cy="183.3" r="6.05"/><circle cx="494.6" cy="186" r="6.05"/><circle cx="501.5" cy="163.5" r="6.05"/><circle cx="508.7" cy="155" r="6.05"/><circle cx="498.7" cy="187.5" r="6.05"/><circle cx="504.5" cy="181.6" r="6.05"/><circle cx="509.5" cy="181.6" r="6.05"/><circle cx="501.2" cy="178.3" r="6.05"/><circle cx="465.4" cy="196.5" r="6.05"/><circle cx="491.2" cy="184.8" r="6.05"/></g>
<path d="M556.2 20.6 556.1 22.3 556 24 556 25.7 555.9 27.4 555.8 29.1 555.7 30.7 555.6 32.4 555.5 34 555.4 35.7 555.3 37.3 555.2 38.9 555.1 40.5 555 42.2 554.9 43.7 554.7 45.3 554.6 46.9 554.5 48.5 554.4 50.1 554.2 51.6 554.1 53.2 554 54.7 553.8 56.2 553.7 57.7 553.5 59.3 553.4 60.8 553.2 62.3 553.1 63.8 552.9 65.2 552.7 66.7 552.6 68.2 552.4 69.6 552.2 71.1 552 72.5 551.8 74 551.6 75.4 551.4 76.8 551.2 78.2 551 79.6 550.8 81 550.6 82.4 550.3 83.8 550.1 85.2 549.9 86.6 549.6 87.9 549.4 89.3 549.1 90.6 548.8 92 548.5 93.3 548.3 94.6 548 96 547.7 97.3 547.4 98.6 547 99.9 546.7 101.2 546.4 102.5 546 103.7 545.7 105 545.3 106.3 544.9 107.5 544.6 108.8 544.2 110.1 543.8 111.3 543.4 112.5 542.9 113.8 542.5 115 542.1 116.2 541.6 117.4 541.1 118.6 540.6 119.8 540.1 121 539.6 122.2 539.1 123.4 538.6 124.6 538 125.7 537.5 126.9 536.9 128.1 536.3 129.2 535.7 130.4 535 131.5 534.4 132.7 533.7 133.8 533 134.9 532.3 136.1 531.6 137.2 530.9 138.3 530.1 139.4 529.3 140.5 528.5 141.6 527.7 142.7 526.9 143.8 526 144.9 525.1 145.9 524.2 147 523.3 148.1 522.3 149.2 521.3 150.2 520.3 151.3 519.3 152.3 518.2 153.4 517.1 154.4 516 155.4 514.8 156.5 513.6 157.5 512.4 158.5 511.2 159.6 509.9 160.6 508.6 161.6 507.2 162.6 505.8 163.6 504.4 164.6 502.9 165.6 501.4 166.6 499.9 167.6 498.3 168.6 496.7 169.6 495 170.5 493.3 171.5 491.5 172.5 489.7 173.5 487.8 174.4 485.9 175.4 484 176.3 482 177.3 479.9 178.2 477.8 179.2 475.6 180.1 473.3 181.1 471 182 468.7 183 466.3 183.9 463.8 184.8 461.2 185.7 458.6 186.7 455.9 187.6 453.1 188.5 450.3 189.4 447.4 190.3 444.4 191.3 441.3 192.2 438.2 193.1 434.9 194 431.6 194.9 428.2 195.8 424.7 196.7 421.1 197.6 417.4 198.5 413.6 199.4 409.7 200.2 405.7 201.1" fill="none" stroke="#ff0000" stroke-width="3.4" stroke-linejoin="round"/>
<path d="M562.2 10.6 562.3 12.7 562.4 14.7 562.4 16.8 562.5 18.8 562.6 20.8 562.7 22.8 562.8 24.8 562.9 26.7 563 28.7 563.1 30.6 563.2 32.5 563.3 34.4 563.4 36.3 563.5 38.1 563.7 40 563.8 41.8 563.9 43.6 564 45.4 564.2 47.2 564.3 49 564.4 50.8 564.6 52.5 564.7 54.2 564.9 55.9 565 57.6 565.2 59.3 565.3 61 565.5 62.6 565.7 64.3 565.8 65.9 566 67.5 566.2 69.1 566.4 70.7 566.6 72.3 566.8 73.8 567 75.4 567.2 76.9 567.4 78.4 567.6 79.9 567.8 81.4 568.1 82.9 568.3 84.4 568.5 85.8 568.8 87.3 569.1 88.7 569.3 90.1 569.6 91.6 569.9 93 570.2 94.3 570.4 95.7 570.7 97.1 571.1 98.4 571.4 99.8 571.7 101.1 572 102.4 572.4 103.7 572.7 105 573.1 106.3 573.5 107.6 573.9 108.9 574.2 110.1 574.6 111.4 575.1 112.6 575.5 113.9 575.9 115.1 576.4 116.3 576.8 117.5 577.3 118.7 577.8 119.9 578.3 121.1 578.8 122.2 579.3 123.4 579.9 124.6 580.4 125.7 581 126.8 581.6 128 582.2 129.1 582.8 130.2 583.4 131.3 584.1 132.4 584.7 133.5 585.4 134.6 586.1 135.6 586.8 136.7 587.6 137.8 588.3 138.8 589.1 139.9 589.9 140.9 590.7 142 591.6 143 592.4 144 593.3 145 594.2 146 595.2 147 596.2 148 597.1 149 598.2 150 599.2 151 600.3 152 601.4 153 602.5 153.9 603.7 154.9 604.9 155.9 606.1 156.8 607.3 157.8 608.6 158.7 609.9 159.7 611.3 160.6 612.7 161.5 614.1 162.5 615.6 163.4 617.1 164.3 618.7 165.3 620.3 166.2 621.9 167.1 623.6 168 625.3 168.9 627.1 169.8 628.9 170.7 630.8 171.6 632.7 172.5 634.6 173.4 636.7 174.3 638.7 175.2 640.9 176.1 643 177 645.3 177.9 647.6 178.8 650 179.7 652.4 180.6 654.9 181.5 657.5 182.3 660.1 183.2 662.8 184.1 665.6 185 668.4 185.9 671.3 186.8 674.3 187.7 677.4 188.5 680.6 189.4 683.8 190.3 687.2 191.2 690.6 192.1 694.1 193 697.7 193.8 701.5 194.7 705.3 195.6 709.2 196.5 713.2 197.4" fill="none" stroke="#ff0000" stroke-width="3.4" stroke-linejoin="round"/>
</g>
<path d="M37.8 204.8 39.6 204.4 41.5 204.1 43.3 203.7 45.1 203.4 46.9 203 48.8 202.7 50.6 202.3 52.4 202 54.2 201.6 56.1 201.3 57.9 200.9 59.7 200.6 61.5 200.2 63.4 199.8 65.2 199.5 67 199.1 68.8 198.8 70.7 198.4 72.5 198 74.3 197.7 76.1 197.3 78 196.9 79.8 196.6 81.6 196.2 83.4 195.8 85.2 195.5 87.1 195.1 88.9 194.7 90.7 194.2 92.5 193.8 94.3 193.4 96.1 192.9 97.9 192.5 99.7 192 101.5 191.5 103.3 191 105.1 190.5 106.9 190 108.7 189.5 110.4 188.9 112.2 188.4 114 187.8 115.8 187.3 117.6 186.7 119.3 186.2 121.1 185.6 122.9 185.1 124.6 184.5 126.4 183.9 128.2 183.3 129.9 182.7 131.7 182.1 133.4 181.5 135.2 180.8 136.9 180.2 138.7 179.5 140.4 178.8 142.1 178.1 143.8 177.4 145.5 176.6 147.1 175.6 148.6 174.6 150.1 173.5 151.6 172.4 153.2 171.3 154.7 170.3 156.3 169.3 157.9 168.4 159.5 167.4 161 166.3 162.4 165.1 163.9 163.9 165.3 162.7 166.7 161.5 168.2 160.3 169.6 159.2 171 157.9 172.3 156.6 173.4 155.2 174.4 153.6 175.4 152 176.3 150.4 177.2 148.7 178.1 147.1 179 145.5 179.8 143.8 180.7 142.1 181.5 140.5 182.3 138.8 183.1 137.1 183.7 135.4 184.3 133.6 184.9 131.9 185.5 130.1 186 128.3 186.5 126.5 186.9 124.7 187.3 122.9 187.6 121" fill="none" stroke="#00cc00" stroke-width="4.9" stroke-dasharray="15.8 8.4"/>
<path d="M193.2 107.5 193.3 109.5 193.4 111.5 193.7 113.4 193.9 115.4 194.2 117.3 194.6 119.3 194.9 121.2 195.3 123.1 195.8 125 196.5 126.8 197.2 128.7 197.9 130.5 198.6 132.4 199.1 134.3 199.6 136.2 200.1 138.2 200.6 140.1 201.2 142 201.8 143.8 202.6 145.6 203.5 147.3 204.6 148.9 205.8 150.5 207.1 152 208.4 153.5 209.7 155 211.1 156.4 212.6 157.7 214.1 159 215.6 160.2 217.2 161.3 218.8 162.5 220.3 163.7 221.8 165 223.3 166.3 224.8 167.6 226.4 168.8 228 170 229.6 171.1 231.2 172.2 232.9 173.3 234.6 174.2 236.3 175.1 238.1 175.9 239.9 176.7 241.7 177.5 243.5 178.3 245.4 179 247.2 179.7 249.1 180.3 250.9 181 252.8 181.7 254.7 182.3 256.5 183 258.4 183.6 260.2 184.2 262.1 184.9 264 185.5 265.8 186.1 267.7 186.7 269.6 187.3 271.5 187.9 273.4 188.4 275.3 188.9 277.2 189.5 279.1 190 281 190.4 282.9 190.9 284.8 191.4 286.7 191.8 288.6 192.3 290.6 192.7 292.5 193.1 294.4 193.5 296.3 193.9 298.3 194.3 300.2 194.7 302.1 195.1 304.1 195.4 306 195.8 307.9 196.1 309.9 196.4 311.8 196.8 313.8 197.1 315.7 197.4 317.7 197.7 319.6 198 321.6 198.3 323.5 198.6 325.5 198.9 327.4 199.2 329.3 199.5 331.3 199.7 333.2 200 335.2 200.3 337.1 200.5 339.1 200.8 341 201.1 343 201.3" fill="none" stroke="#00cc00" stroke-width="4.9" stroke-dasharray="15.8 8.4"/>
<path d="M406.5 182.8 408.3 182.7 410.2 182.7 412 182.6 413.8 182.5 415.7 182.4 417.5 182.3 419.3 182.1 421.2 181.9 423 181.8 424.8 181.6 426.6 181.3 428.5 181.1 430.3 180.9 432.1 180.6 433.9 180.4 435.7 180.2 437.6 179.9 439.4 179.7 441.2 179.4 443 179.1 444.8 178.9 446.6 178.6 448.5 178.3 450.3 178 452.1 177.6 453.9 177.3 455.7 177 457.5 176.7 459.3 176.3 461.1 176 462.9 175.7 464.7 175.3 466.5 175 468.3 174.6 470.1 174.3 471.9 173.9 473.7 173.6 475.5 173.2 477.3 172.8 479.1 172.4 480.9 172 482.7 171.6 484.5 171.2 486.3 170.8 488.1 170.4 489.9 170 491.7 169.5 493.5 169.1 495.3 168.7 497.1 168.2 498.8 167.7 500.6 167.2 502.4 166.7 504.1 166.2 505.8 165.6 507.5 165 509.2 164.3 510.9 163.6 512.5 162.8 514.2 161.9 515.8 161 517.4 160.1 519 159.2 520.6 158.4 522.3 157.5 523.9 156.7 525.6 155.9 527.4 155.2 529.1 154.5 530.8 153.8 532.5 153 534.2 152.2 535.7 151.3 537.1 150.3 538.4 149.1 539.6 147.7 540.8 146.2 542 144.8 543.2 143.4 544.4 142 545.7 140.6 547 139.2 548.3 137.8 549.5 136.4 550.5 135 551.4 133.4 552.2 131.8 552.8 130.1 553.4 128.4 553.9 126.6 554.4 124.8 554.7 123 555 121.2 555.3 119.4 555.6 117.6 555.8 115.7 556 113.9 556.1 112.1 556.2 110.2" fill="none" stroke="#00cc00" stroke-width="4.9" stroke-dasharray="15.8 8.4" stroke-dashoffset="1.5"/>
<path d="M561 110.2 561.2 112.1 561.4 113.9 561.7 115.8 562 117.6 562.4 119.4 562.9 121.1 563.3 122.9 563.8 124.6 564.4 126.4 565 128.1 565.8 129.8 566.6 131.5 567.5 133.1 568.4 134.6 569.4 136.2 570.5 137.7 571.6 139.2 572.8 140.6 574 142 575.2 143.4 576.5 144.7 577.8 146 579.2 147.2 580.6 148.3 582.1 149.4 583.6 150.5 585.1 151.6 586.7 152.6 588.2 153.6 589.7 154.6 591.3 155.6 592.9 156.5 594.5 157.5 596.1 158.4 597.7 159.3 599.3 160.2 601 161 602.7 161.7 604.3 162.4 606 163.1 607.7 163.7 609.5 164.3 611.2 164.8 613 165.4 614.8 165.9 616.6 166.4 618.3 166.9 620.1 167.4 621.9 167.9 623.7 168.3 625.4 168.8 627.2 169.2 629 169.7 630.8 170.1 632.6 170.5 634.4 170.9 636.2 171.4 638 171.8 639.8 172.1 641.6 172.5 643.4 172.9 645.2 173.3 647 173.7 648.8 174 650.6 174.4 652.4 174.7 654.2 175.1 656 175.4 657.8 175.7 659.6 176 661.4 176.3 663.3 176.6 665.1 176.8 666.9 177.1 668.7 177.3 670.5 177.6 672.4 177.8 674.2 178.1 676 178.3 677.8 178.6 679.7 178.8 681.5 179 683.3 179.3 685.1 179.5 687 179.8 688.8 180 690.6 180.3 692.4 180.5 694.2 180.7 696.1 181 697.9 181.2 699.7 181.4 701.5 181.7 703.4 181.9 705.2 182.1 707 182.3 708.8 182.5 710.7 182.7 712.5 182.9" fill="none" stroke="#00cc00" stroke-width="4.9" stroke-dasharray="15.8 8.4"/>
<path d="M343 40H40V226.5H343" fill="none" stroke="#000" stroke-width="2.2" stroke-linejoin="miter"/><path d="M115.5 40V47.5M115.5 226.5V219.0" stroke="#000" stroke-width="2.2" fill="none"/><path d="M191 40V47.5M191 226.5V219.0" stroke="#000" stroke-width="2.2" fill="none"/><path d="M266.5 40V47.5M266.5 226.5V219.0" stroke="#000" stroke-width="2.2" fill="none"/><path d="M40 77.2H48M342 77.2H334" stroke="#000" stroke-width="2.2" fill="none"/><path d="M40 151.8H48M342 151.8H334" stroke="#000" stroke-width="2.2" fill="none"/>
<path d="M711 40H408V226.5H711" fill="none" stroke="#000" stroke-width="2.2" stroke-linejoin="miter"/><path d="M483.5 40V47.5M483.5 226.5V219.0" stroke="#000" stroke-width="2.2" fill="none"/><path d="M559 40V47.5M559 226.5V219.0" stroke="#000" stroke-width="2.2" fill="none"/><path d="M634.5 40V47.5M634.5 226.5V219.0" stroke="#000" stroke-width="2.2" fill="none"/><path d="M408 66.5H416M710 66.5H702" stroke="#000" stroke-width="2.2" fill="none"/><path d="M408 146.4H416M710 146.4H702" stroke="#000" stroke-width="2.2" fill="none"/>
<text transform="translate(138.4,22.5) scale(1.13,1)" font-style="italic">υ</text><text transform="translate(150.6,17.5) scale(1,1)" text-anchor="start" font-size="16.5">*</text><text transform="translate(150.3,28) scale(1,1)" text-anchor="start" font-size="16.5">F</text><text transform="translate(159.8,22.5) scale(1,1)" text-anchor="start" >, 10</text><text transform="translate(194.0,13.3) scale(1,1)" text-anchor="start" font-size="16.5">6</text><text transform="translate(208.5,22.5) scale(1,1)" text-anchor="start" >m/s</text><text transform="translate(506.4,22.5) scale(1.13,1)" font-style="italic">υ</text><text transform="translate(518.6,17.5) scale(1,1)" text-anchor="start" font-size="16.5">*</text><text transform="translate(518.3,28) scale(1,1)" text-anchor="start" font-size="16.5">F</text><text transform="translate(527.8,22.5) scale(1,1)" text-anchor="start" >, 10</text><text transform="translate(562.0,13.3) scale(1,1)" text-anchor="start" font-size="16.5">6</text><text transform="translate(576.5,22.5) scale(1,1)" text-anchor="start" >m/s</text><text transform="translate(133,284.4) scale(1,1)" text-anchor="start" ><tspan font-style="italic">n</tspan>, 10</text><text transform="translate(177.3,276.3) scale(1,1)" text-anchor="start" font-size="16.5">12</text><text transform="translate(202,284.4) scale(1,1)" text-anchor="start" >cm</text><text transform="translate(231,276.3) scale(1,1)" text-anchor="start" font-size="16.5">−2</text><text transform="translate(501,284.4) scale(1,1)" text-anchor="start" ><tspan font-style="italic">n</tspan>, 10</text><text transform="translate(545.3,276.3) scale(1,1)" text-anchor="start" font-size="16.5">12</text><text transform="translate(570,284.4) scale(1,1)" text-anchor="start" >cm</text><text transform="translate(599,276.3) scale(1,1)" text-anchor="start" font-size="16.5">−2</text><text transform="translate(2.6,84.9) scale(1,1)" text-anchor="start" >1.2</text><text transform="translate(2.6,159.8) scale(1,1)" text-anchor="start" >1.1</text><text transform="translate(2.6,234.0) scale(1,1)" text-anchor="start" >1</text><text transform="translate(364.9,74.2) scale(1,1)" text-anchor="start" >1.3</text><text transform="translate(364.9,154.2) scale(1,1)" text-anchor="start" >1.15</text><text transform="translate(364.9,234.0) scale(1,1)" text-anchor="start" >1</text><text transform="translate(40.5,250.2) scale(1,1)" text-anchor="middle" >−6</text><text transform="translate(115.8,250.2) scale(1,1)" text-anchor="middle" >−3</text><text transform="translate(190.9,250.2) scale(1,1)" text-anchor="middle" >0</text><text transform="translate(266.1,250.2) scale(1,1)" text-anchor="middle" >3</text><text transform="translate(341.7,250.2) scale(1,1)" text-anchor="middle" >6</text><text transform="translate(408.1,250.2) scale(1,1)" text-anchor="middle" >−3</text><text transform="translate(483.6,250.2) scale(1,1)" text-anchor="middle" >−1.5</text><text transform="translate(559,250.2) scale(1,1)" text-anchor="middle" >0</text><text transform="translate(634.8,250.2) scale(1,1)" text-anchor="middle" >1.5</text><text transform="translate(710,250.2) scale(1,1)" text-anchor="middle" >3</text><text transform="translate(70.4,86.9) scale(1,1)" text-anchor="start" letter-spacing="0.9">(a)</text><text transform="translate(437.5,86.9) scale(1,1)" text-anchor="start" letter-spacing="0.8">(b)</text>
</svg>
</body></html>
